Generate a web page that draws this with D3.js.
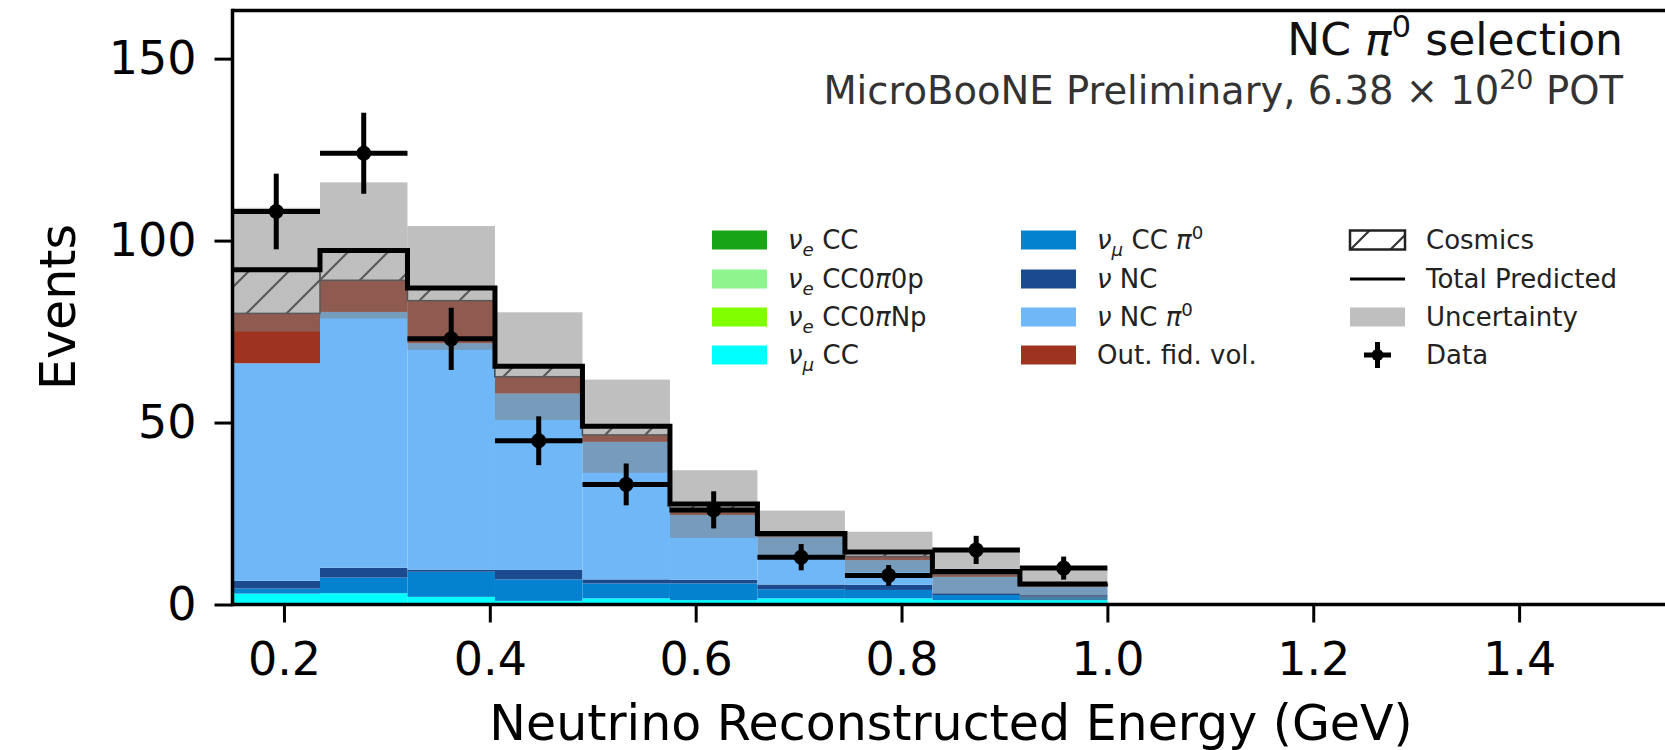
<!DOCTYPE html>
<html>
<head>
<meta charset="utf-8">
<script src="https://cdn.jsdelivr.net/npm/d3@7"></script>
<style>
body { margin: 0; background: #fff; }
svg { display: block; font-family: "DejaVu Sans", sans-serif; }
</style>
</head>
<body>
<svg width="1665" height="750"></svg>
<script>
// bin edges (GeV) and stacked MC components
var binEdges = [0.15, 0.235, 0.32, 0.405, 0.49, 0.575, 0.66, 0.745, 0.83, 0.915, 1.0];

var nueCC      = [0.2, 0.2, 0.2, 0.2, 0.2, 0.2, 0.2, 0.2, 0.2, 0.2];
var nueCC0p    = [0.1, 0.1, 0.1, 0.1, 0.1, 0.1, 0.1, 0.1, 0.1, 0.1];
var nueCCNp    = [0.1, 0.1, 0.1, 0.1, 0.1, 0.1, 0.1, 0.1, 0.1, 0.1];
var numuCC     = [2.6, 2.7, 1.7, 0.6, 1.3, 0.8, 1.3, 1.3, 0.8, 0.8];
var numuCCpi0  = [1.4, 4.3, 6.9, 5.9, 4.1, 4.6, 2.5, 2.3, 1.4, 0.9];
var nuNC       = [2.1, 2.7, 0.5, 2.6, 1.1, 1.0, 1.3, 1.4, 0.5, 0.5];
var nuNCpi0    = [59.8, 70.3, 62.3, 48.5, 37.8, 17.8, 13.0, 6.8, 4.5, 2.3];
var outFV      = [13.7, 8.7, 11.7, 4.6, 1.9, 0.9, 0.3, 1.0, 0.7, 0.3];
var cosmics    = [12.0, 8.2, 3.5, 2.9, 2.4, 2.1, 0.7, 1.2, 0.8, 0.4];

var uncert     = [17.0, 18.7, 17.0, 14.8, 12.8, 9.3, 6.3, 5.6, 6.1, 4.4];
var dataCounts = [108, 124, 73, 45, 33, 26, 13, 8, 15, 10];

var xTicks = [0.2, 0.4, 0.6, 0.8, 1.0, 1.2, 1.4];
var yTicks = [0, 50, 100, 150];

var series = [
  {values: nueCC,     color: "#17a517", label: [["ν", "i"], ["e", "sub"], [" CC"]]},
  {values: nueCC0p,   color: "#8ef58e", label: [["ν", "i"], ["e", "sub"], [" CC0"], ["π", "i"], ["0p"]]},
  {values: nueCCNp,   color: "#80ff00", label: [["ν", "i"], ["e", "sub"], [" CC0"], ["π", "i"], ["Np"]]},
  {values: numuCC,    color: "#00ffff", label: [["ν", "i"], ["μ", "sub"], [" CC"]]},
  {values: numuCCpi0, color: "#0582cf", label: [["ν", "i"], ["μ", "sub"], [" CC "], ["π", "i"], ["0", "sup"]]},
  {values: nuNC,      color: "#1c4a8e", label: [["ν", "i"], [" NC"]]},
  {values: nuNCpi0,   color: "#6fb7f6", label: [["ν", "i"], [" NC "], ["π", "i"], ["0", "sup"]]},
  {values: outFV,     color: "#9e3420", label: [["Out. fid. vol."]]}
];

var svg = d3.select("svg");

var x = d3.scaleLinear().domain([0.15, 1.55]).range([232.5, 1673.5]);
var y = d3.scaleLinear().domain([0, 163.2]).range([604.5, 10.6]);

var defs = svg.append("defs");
defs.append("pattern")
  .attr("id", "hatch")
  .attr("patternUnits", "userSpaceOnUse")
  .attr("width", 40).attr("height", 40)
  .append("path")
  .attr("d", "M0,40 L40,0 M-10,10 L10,-10 M30,50 L50,30")
  .attr("stroke", "#333").attr("stroke-width", 2.2);

// build stack table
var bins = d3.range(dataCounts.length).map(function(i) {
  var row = {i: i, lo: binEdges[i], hi: binEdges[i + 1]};
  series.forEach(function(s, k) { row["s" + k] = s.values[i]; });
  row.cos = cosmics[i];
  return row;
});
var keys = series.map(function(s, k) { return "s" + k; }).concat(["cos"]);
var stacked = d3.stack().keys(keys)(bins);

var g = svg.append("g");

stacked.forEach(function(layer, k) {
  var isCos = layer.key === "cos";
  g.append("g").selectAll("rect")
    .data(layer)
    .enter().append("rect")
    .attr("x", function(d) { return x(d.data.lo); })
    .attr("width", function(d) { return x(d.data.hi) - x(d.data.lo); })
    .attr("y", function(d) { return y(d[1]); })
    .attr("height", function(d) { return y(d[0]) - y(d[1]); })
    .attr("fill", isCos ? "url(#hatch)" : series[k].color)
    .attr("stroke", isCos ? "#333" : "none")
    .attr("stroke-width", isCos ? 1.5 : 0);
});

var totals = bins.map(function(b, i) {
  return d3.sum(keys, function(k) { return b[k]; });
});

// uncertainty band
g.append("g").selectAll("rect")
  .data(bins)
  .enter().append("rect")
  .attr("x", function(d) { return x(d.lo); })
  .attr("width", function(d) { return x(d.hi) - x(d.lo); })
  .attr("y", function(d, i) { return y(totals[i] + uncert[i]); })
  .attr("height", function(d, i) { return y(totals[i] - uncert[i]) - y(totals[i] + uncert[i]); })
  .attr("fill", "#808080")
  .attr("fill-opacity", 0.5);

// total predicted step line
var stepPts = binEdges.map(function(e, i) {
  return [e, totals[Math.min(i, totals.length - 1)]];
});
g.append("path")
  .datum(stepPts)
  .attr("d", d3.line().x(function(d) { return x(d[0]); }).y(function(d) { return y(d[1]); }).curve(d3.curveStepAfter))
  .attr("fill", "none")
  .attr("stroke", "#000")
  .attr("stroke-width", 5);

// data points
var pts = g.append("g").selectAll("g")
  .data(bins)
  .enter().append("g");
pts.append("line")
  .attr("x1", function(d) { return x(d.lo); })
  .attr("x2", function(d) { return x(d.hi); })
  .attr("y1", function(d, i) { return y(dataCounts[i]); })
  .attr("y2", function(d, i) { return y(dataCounts[i]); })
  .attr("stroke", "#000").attr("stroke-width", 5);
pts.append("line")
  .attr("x1", function(d) { return x((d.lo + d.hi) / 2); })
  .attr("x2", function(d) { return x((d.lo + d.hi) / 2); })
  .attr("y1", function(d, i) { return y(dataCounts[i] - Math.sqrt(dataCounts[i])); })
  .attr("y2", function(d, i) { return y(dataCounts[i] + Math.sqrt(dataCounts[i])); })
  .attr("stroke", "#000").attr("stroke-width", 5);
pts.append("circle")
  .attr("cx", function(d) { return x((d.lo + d.hi) / 2); })
  .attr("cy", function(d, i) { return y(dataCounts[i]); })
  .attr("r", 7.5)
  .attr("fill", "#000");

// axes
var xAxis = svg.append("g")
  .attr("transform", "translate(0," + y(0) + ")")
  .call(d3.axisBottom(x).tickValues(xTicks).tickFormat(d3.format(".1f")).tickSize(18).tickPadding(20));
var yAxis = svg.append("g")
  .attr("transform", "translate(" + x(0.15) + ",0)")
  .call(d3.axisLeft(y).tickValues(yTicks).tickSize(18).tickPadding(18));
[xAxis, yAxis].forEach(function(a) {
  a.select(".domain").remove();
  a.selectAll(".tick line").attr("stroke", "#000").attr("stroke-width", 3);
  a.selectAll(".tick text").attr("font-size", 46).attr("fill", "#000").attr("font-family", "DejaVu Sans");
});

// spines
svg.append("line").attr("x1", x(0.15)).attr("x2", 1665).attr("y1", y(0)).attr("y2", y(0))
  .attr("stroke", "#000").attr("stroke-width", 3.5);
svg.append("line").attr("x1", x(0.15)).attr("x2", 1665).attr("y1", y(163.2)).attr("y2", y(163.2))
  .attr("stroke", "#000").attr("stroke-width", 3.5);
svg.append("line").attr("x1", x(0.15)).attr("x2", x(0.15)).attr("y1", y(0) + 1.75).attr("y2", y(163.2) - 1.75)
  .attr("stroke", "#000").attr("stroke-width", 3.5);

// axis labels
svg.append("text")
  .attr("x", 951).attr("y", 740)
  .attr("text-anchor", "middle")
  .attr("font-size", 49)
  .text("Neutrino Reconstructed Energy (GeV)");
svg.append("text")
  .attr("transform", "translate(75,307) rotate(-90)")
  .attr("text-anchor", "middle")
  .attr("font-size", 49)
  .text("Events");

// rich text helper
function rich(sel, parts, size) {
  parts.forEach(function(p) {
    var t = sel.append("tspan").text(p[0]);
    if (p[1] === "i") t.attr("font-style", "italic");
    if (p[1] === "sub") t.attr("font-style", "italic").attr("font-size", size * 0.7).attr("dy", size * 0.25);
    if (p[1] === "sup") t.attr("font-size", size * 0.7).attr("dy", -size * 0.4);
    if (p[1] === "sub" || p[1] === "sup") {
      sel.append("tspan").attr("font-size", size * 0.05).attr("dy", p[1] === "sub" ? -size * 0.25 : size * 0.4).text("\u200a");
    }
  });
}

// titles
var t1 = svg.append("text").attr("x", 1623).attr("y", 55).attr("text-anchor", "end")
  .attr("font-size", 44).attr("fill", "#111");
rich(t1, [["NC "], ["π", "i"], ["0", "sup"], [" selection"]], 44);
var t2 = svg.append("text").attr("x", 1623).attr("y", 104).attr("text-anchor", "end")
  .attr("font-size", 38.5).attr("fill", "#333");
rich(t2, [["MicroBooNE Preliminary, 6.38 × 10"], ["20", "sup"], [" POT"]], 38.5);

// legend
var legFont = 26, rowY = [240, 279, 317, 355];
var cols = [712, 1021];
series.forEach(function(s, k) {
  var cx = cols[Math.floor(k / 4)], cy = rowY[k % 4];
  svg.append("rect").attr("x", cx).attr("y", cy - 9.5).attr("width", 55).attr("height", 19).attr("fill", s.color);
  var t = svg.append("text").attr("x", cx + 76).attr("y", cy + 9).attr("font-size", legFont).attr("fill", "#222");
  rich(t, s.label, legFont);
});
var c3 = 1350;
svg.append("rect").attr("x", c3).attr("y", rowY[0] - 9.5).attr("width", 55).attr("height", 19)
  .attr("fill", "url(#hatch)").attr("stroke", "#222").attr("stroke-width", 2.5);
svg.append("line").attr("x1", c3).attr("x2", c3 + 55).attr("y1", rowY[1]).attr("y2", rowY[1])
  .attr("stroke", "#000").attr("stroke-width", 3);
svg.append("rect").attr("x", c3).attr("y", rowY[2] - 9.5).attr("width", 55).attr("height", 19)
  .attr("fill", "#808080").attr("fill-opacity", 0.5);
svg.append("line").attr("x1", c3 + 14).attr("x2", c3 + 41).attr("y1", rowY[3]).attr("y2", rowY[3])
  .attr("stroke", "#000").attr("stroke-width", 5);
svg.append("line").attr("x1", c3 + 27.5).attr("x2", c3 + 27.5).attr("y1", rowY[3] - 13).attr("y2", rowY[3] + 13)
  .attr("stroke", "#000").attr("stroke-width", 5);
svg.append("circle").attr("cx", c3 + 27.5).attr("cy", rowY[3]).attr("r", 6).attr("fill", "#000");
["Cosmics", "Total Predicted", "Uncertainty", "Data"].forEach(function(l, k) {
  svg.append("text").attr("x", c3 + 76).attr("y", rowY[k] + 9).attr("font-size", legFont).attr("fill", "#222").text(l);
});
</script>
</body>
</html>
